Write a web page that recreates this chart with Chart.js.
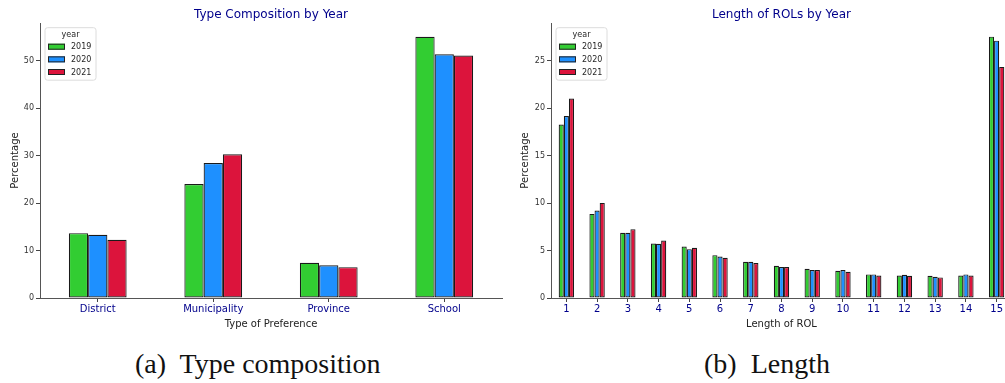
<!DOCTYPE html>
<html><head><meta charset="utf-8">
<script src="https://cdn.jsdelivr.net/npm/chart.js@4.4.1/dist/chart.umd.min.js"></script>
<style>
html,body{margin:0;padding:0;width:1005px;height:383px;overflow:hidden;background:#fff;position:relative;}
canvas{position:absolute;top:0;}
#c1{left:0;}
#c2{left:510px;}
.cap{position:absolute;top:350px;font-family:"Liberation Serif",serif;font-size:28px;line-height:28px;color:#111;white-space:nowrap;}
</style></head><body>
<canvas id="c1" width="510" height="340"></canvas>
<canvas id="c2" width="510" height="340"></canvas>
<div class="cap" id="capA" style="left:135px;"></div>
<div class="cap" id="capB" style="left:704px;"></div>
<script>
// ---- data ----
const years = ['2019', '2020', '2021'];
const yearColors = ['#32CD32', '#1E90FF', '#DC143C'];
const legendTitle = 'year';

const typeCategories = ['District', 'Municipality', 'Province', 'School'];
const type2019 = [13.65, 24.0, 7.4, 55.0];
const type2020 = [13.3, 28.4, 6.9, 51.3];
const type2021 = [12.25, 30.25, 6.5, 51.05];

const lengthCategories = ['1','2','3','4','5','6','7','8','9','10','11','12','13','14','15'];
const len2019 = [18.3, 8.87, 6.87, 5.75, 5.43, 4.52, 3.82, 3.40, 3.09, 2.88, 2.49, 2.38, 2.35, 2.38, 27.56];
const len2020 = [19.2, 9.22, 6.87, 5.72, 5.15, 4.38, 3.82, 3.26, 2.95, 2.95, 2.49, 2.45, 2.24, 2.49, 27.14];
const len2021 = [21.04, 10.03, 7.26, 6.07, 5.29, 4.24, 3.68, 3.26, 2.95, 2.77, 2.38, 2.35, 2.17, 2.38, 24.37];

const titleA = 'Type Composition by Year';
const titleB = 'Length of ROLs by Year';
const xLabelA = 'Type of Preference';
const xLabelB = 'Length of ROL';
const yLabel = 'Percentage';
const captionA = '(a)\u00a0 Type composition';
const captionB = '(b)\u00a0 Length';

document.getElementById('capA').textContent = captionA;
document.getElementById('capB').textContent = captionB;

Chart.defaults.font.family = '"DejaVu Sans", sans-serif';
Chart.defaults.animation = false;

const legendPlugin = {
  id: 'yearLegend',
  afterDatasetsDraw(chart) {
    const ctx = chart.ctx, a = chart.chartArea;
    const x = a.left + 5, y = a.top + 4.7, w = 51, h = 52.5, r = 2.5;
    ctx.save();
    ctx.beginPath();
    ctx.moveTo(x + r, y); ctx.lineTo(x + w - r, y); ctx.arcTo(x + w, y, x + w, y + r, r);
    ctx.lineTo(x + w, y + h - r); ctx.arcTo(x + w, y + h, x + w - r, y + h, r);
    ctx.lineTo(x + r, y + h); ctx.arcTo(x, y + h, x, y + h - r, r);
    ctx.lineTo(x, y + r); ctx.arcTo(x, y, x + r, y, r); ctx.closePath();
    ctx.fillStyle = 'rgba(255,255,255,0.85)'; ctx.fill();
    ctx.strokeStyle = '#dcdcdc'; ctx.lineWidth = 1; ctx.stroke();
    ctx.font = '8px "DejaVu Sans"';
    ctx.fillStyle = '#262626'; ctx.textAlign = 'center'; ctx.textBaseline = 'middle';
    ctx.fillText(legendTitle, x + w / 2, y + 7.2);
    chart.data.datasets.forEach((ds, i) => {
      const cy = y + 19 + i * 12.65;
      ctx.fillStyle = ds.backgroundColor;
      ctx.fillRect(x + 3, cy - 3, 17, 6);
      ctx.strokeStyle = '#222'; ctx.lineWidth = 1;
      ctx.strokeRect(x + 3.5, cy - 2.5, 16, 5);
      ctx.fillStyle = '#262626'; ctx.textAlign = 'left';
      ctx.fillText(ds.label, x + 26, cy + 0.5);
    });
    ctx.restore();
  }
};

function makeChart(id, labels, series, title, xLabel, yMax, yStep, yWidth) {
  return new Chart(document.getElementById(id), {
    type: 'bar',
    data: {
      labels: labels,
      datasets: series.map((d, i) => ({
        label: years[i], data: d,
        backgroundColor: yearColors[i], borderColor: '#1a1a1a', borderWidth: 1.2,
        borderSkipped: false,
        categoryPercentage: 0.5, barPercentage: 1.0
      }))
    },
    options: {
      responsive: false,
      layout: { padding: { left: 0, right: 8, top: 0, bottom: 0 } },
      plugins: {
        legend: { display: false },
        tooltip: { enabled: false },
        title: {
          display: true, text: title, fullSize: false, color: '#00008B',
          font: { size: 12, weight: 'normal' }, padding: { top: 8, bottom: 0.6 }
        }
      },
      scales: {
        x: {
          type: 'category', offset: true,
          grid: { display: true, drawOnChartArea: false, drawTicks: true, tickLength: 4, color: '#444', offset: false },
          border: { display: true, color: '#555', width: 1 },
          ticks: { color: '#00008B', font: { size: 10 }, padding: 1.5, maxRotation: 0, autoSkip: false },
          title: { display: true, text: xLabel, color: '#222', font: { size: 10 }, padding: { top: 0, bottom: 9.5 } },
          afterFit(s) { s.height = 42; }
        },
        y: {
          min: 0, max: yMax,
          grid: { display: true, drawOnChartArea: false, drawTicks: true, tickLength: 4, color: '#444' },
          border: { display: true, color: '#555', width: 1 },
          ticks: { stepSize: yStep, includeBounds: false, color: '#333', font: { size: 8 }, padding: 2 },
          title: { display: true, text: yLabel, color: '#222', font: { size: 10 }, padding: { top: 9.5, bottom: 0 } },
          afterFit(s) { s.width = yWidth; }
        }
      }
    },
    plugins: [legendPlugin]
  });
}

makeChart('c1', typeCategories, [type2019, type2020, type2021], titleA, xLabelA, 57.9, 10, 40);
makeChart('c2', lengthCategories, [len2019, len2020, len2021], titleB, xLabelB, 29.0, 5, 41);
</script>
</body></html>
